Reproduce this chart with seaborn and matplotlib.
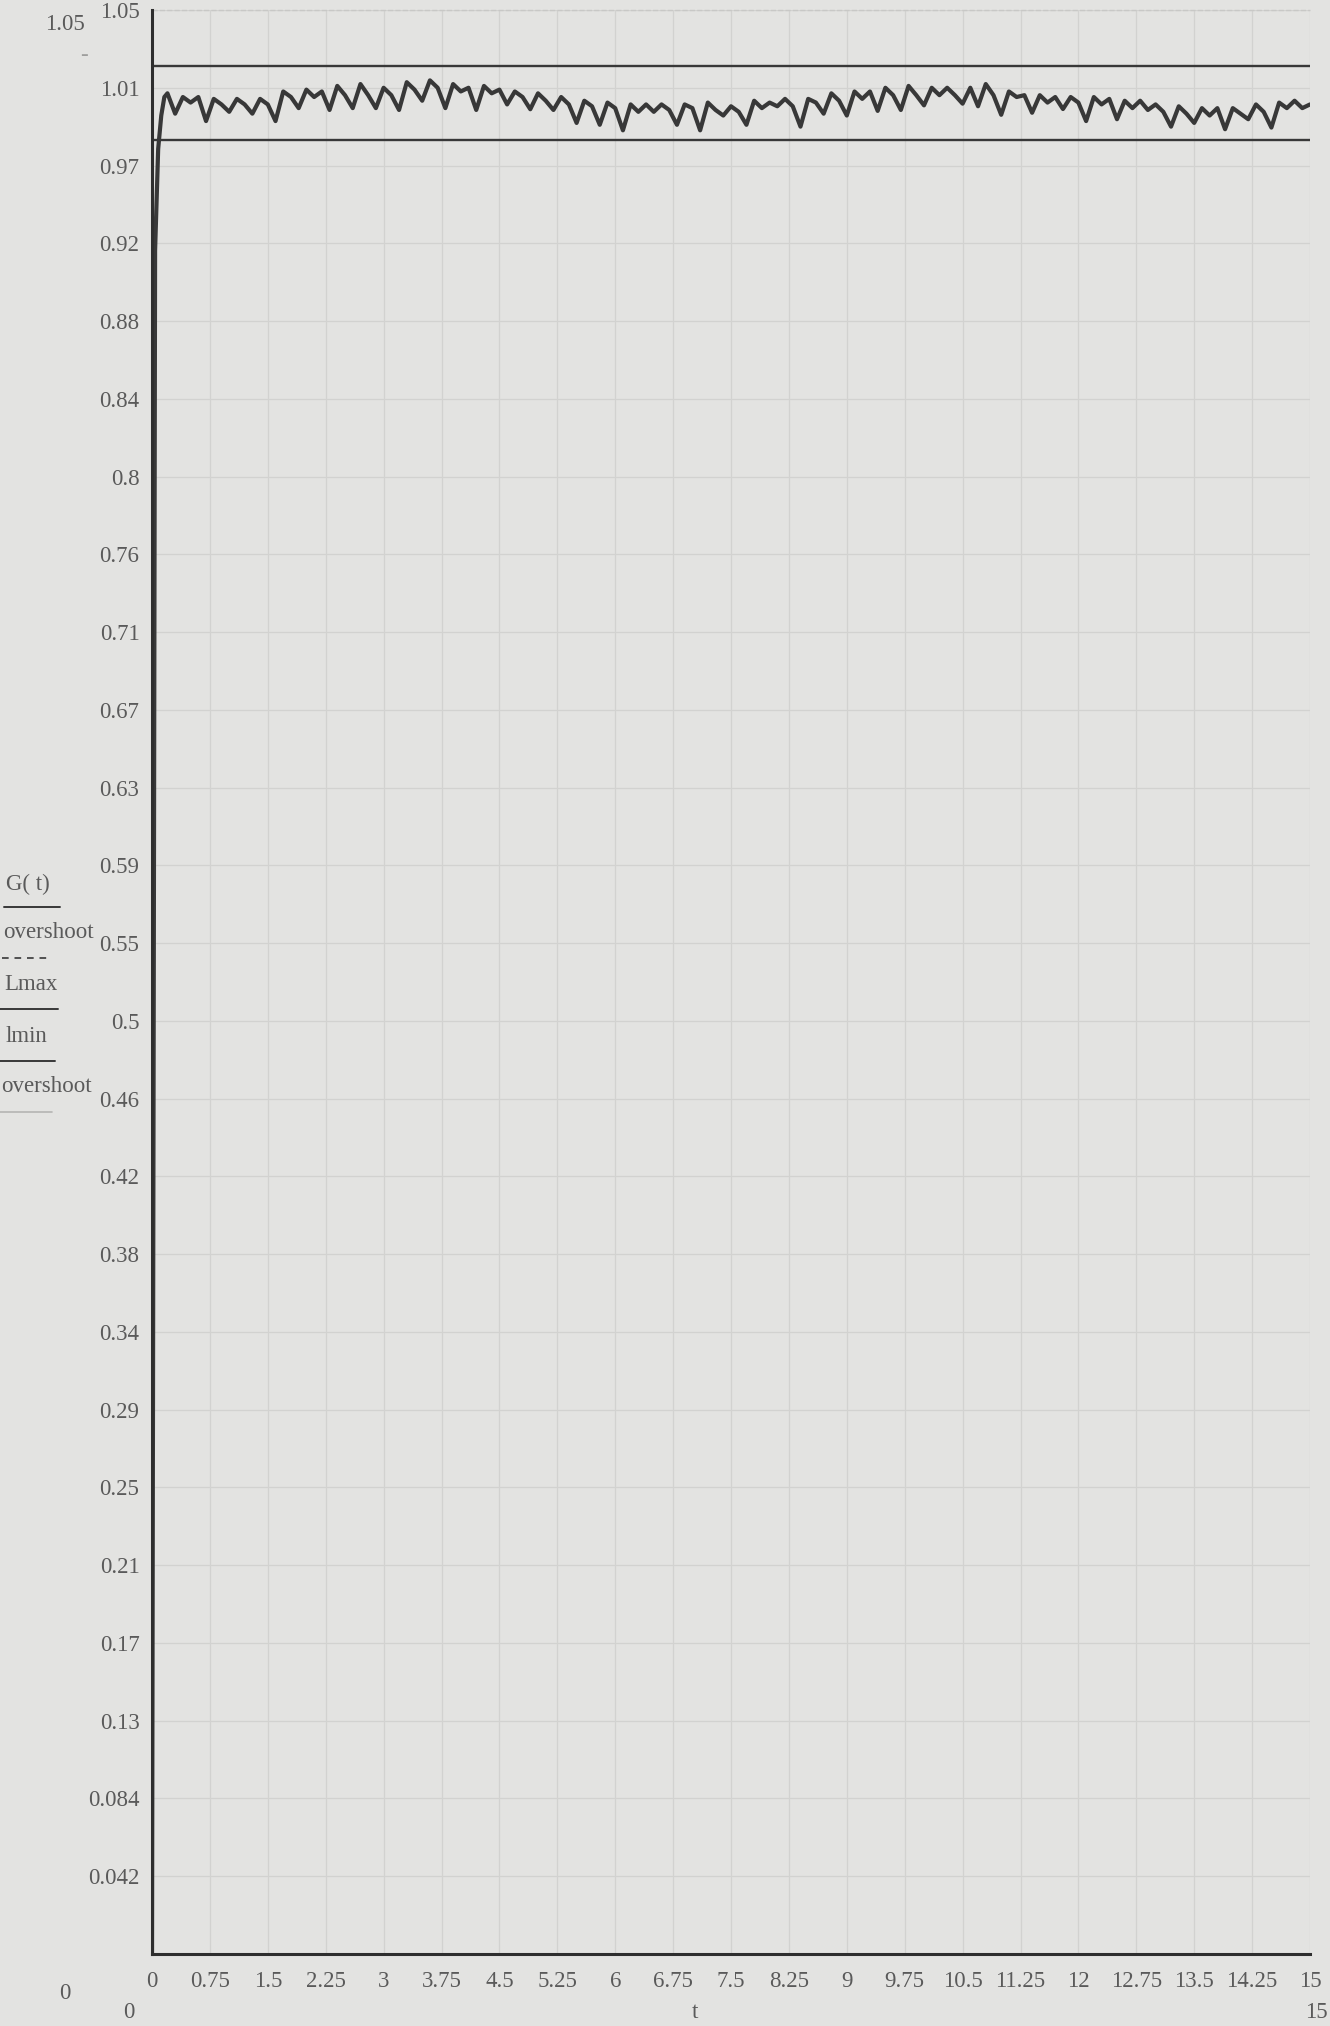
import numpy as np
import pandas as pd
import seaborn as sns
import matplotlib.pyplot as plt

# data
t_rise = [0.0, 0.04, 0.08, 0.12, 0.16]
g_rise = [0.0, 0.92, 0.975, 0.993, 1.003]

t_main = np.round(np.arange(0.2, 15.001, 0.1), 2)
g_main = [
    1.005, 0.994, 1.003, 1.000, 1.003, 0.990, 1.002, 0.999, 0.995, 1.002,
    0.999, 0.994, 1.002, 0.999, 0.990, 1.006, 1.003, 0.997, 1.007, 1.003,
    1.006, 0.996, 1.009, 1.004, 0.997, 1.010, 1.004, 0.997, 1.008, 1.004,
    0.996, 1.011, 1.007, 1.001, 1.012, 1.008, 0.997, 1.010, 1.006, 1.008,
    0.996, 1.009, 1.005, 1.007, 0.999, 1.006, 1.003, 0.9964, 1.005, 1.001,
    0.996, 1.003, 0.999, 0.989, 1.001, 0.998, 0.988, 1.000, 0.997, 0.985,
    0.999, 0.995, 0.999, 0.995, 0.999, 0.996, 0.988, 0.999, 0.997, 0.985,
    1.000, 0.996, 0.993, 0.998, 0.995, 0.988, 1.001, 0.997, 1.000, 0.998,
    1.002, 0.998, 0.987, 1.002, 1.000, 0.994, 1.005, 1.001, 0.993, 1.006,
    1.002, 1.006, 0.9955, 1.008, 1.004, 0.996, 1.009, 1.004, 0.9985, 1.008,
    1.004, 1.008, 1.004, 0.9994, 1.008, 0.998, 1.010, 1.004, 0.9934, 1.006,
    1.003, 1.004, 0.9945, 1.004, 1.000, 1.003, 0.9965, 1.003, 1.000, 0.990,
    1.003, 0.999, 1.002, 0.991, 1.001, 0.997, 1.001, 0.996, 0.999, 0.995,
    0.987, 0.998, 0.994, 0.989, 0.997, 0.993, 0.997, 0.9856, 0.997, 0.994,
    0.991, 0.999, 0.995, 0.9865, 1.000, 0.997, 1.001, 0.997, 0.999,
]

t_bounds = [0.0, 15.0]
lmax = [1.02, 1.02]
lmin = [0.98, 0.98]
overshoot = [1.05, 1.05]

x_ticks = [0, 0.75, 1.5, 2.25, 3, 3.75, 4.5, 5.25, 6, 6.75, 7.5, 8.25, 9,
           9.75, 10.5, 11.25, 12, 12.75, 13.5, 14.25, 15]
x_labels = ["0", "0.75", "1.5", "2.25", "3", "3.75", "4.5", "5.25", "6", "6.75",
            "7.5", "8.25", "9", "9.75", "10.5", "11.25", "12", "12.75", "13.5",
            "14.25", "15"]
y_labels = ["", "0.042", "0.084", "0.13", "0.17", "0.21", "0.25", "0.29", "0.34",
            "0.38", "0.42", "0.46", "0.5", "0.55", "0.59", "0.63", "0.67", "0.71",
            "0.76", "0.8", "0.84", "0.88", "0.92", "0.97", "1.01", "1.05"]
y_ticks = [round(0.042 * i, 3) for i in range(len(y_labels))]

BG = "#e3e3e1"
INK = "#383838"
TXT = "#5a5a5a"
GRID = "#d2d2d0"
FS = 16.5

sns.set_theme(style="white", rc={"axes.facecolor": BG, "figure.facecolor": BG})
plt.rcParams["font.family"] = ["Liberation Serif", "DejaVu Serif"]

W, H = 1330, 2026
fig = plt.figure(figsize=(W / 100, H / 100), dpi=100, facecolor=BG)
ax = fig.add_axes([152 / W, 72 / H, 1158 / W, 1944 / H])
ax.set_facecolor(BG)

df_g = pd.DataFrame({"t": list(t_rise) + list(t_main), "G": g_rise + g_main})
df_b = pd.DataFrame({"t": t_bounds, "Lmax": lmax, "lmin": lmin, "over": overshoot})

sns.lineplot(data=df_b, x="t", y="over", ax=ax, color="#c8c8c6", lw=1.0,
             linestyle="--", clip_on=False)
sns.lineplot(data=df_b, x="t", y="Lmax", ax=ax, color=INK, lw=1.7)
sns.lineplot(data=df_b, x="t", y="lmin", ax=ax, color=INK, lw=1.7)
sns.lineplot(data=df_g, x="t", y="G", ax=ax, color=INK, lw=3.0,
             estimator=None, sort=False)

ax.set_xlim(0, 15)
ax.set_ylim(0, 1.05)
ax.set_xticks(x_ticks)
ax.set_xticklabels(x_labels)
ax.set_yticks(y_ticks)
ax.set_yticklabels(y_labels)
ax.set_xlabel("")
ax.set_ylabel("")
ax.grid(True, color=GRID, lw=0.9)
ax.set_axisbelow(True)

for side in ["top", "right"]:
    ax.spines[side].set_visible(False)
for side in ["left", "bottom"]:
    ax.spines[side].set_color("#2e2e2e")
    ax.spines[side].set_linewidth(2.2)

ax.tick_params(axis="both", direction="inout", length=16, width=1.6,
               color="#2e2e2e", labelcolor=TXT, labelsize=FS, pad=1)
ax.tick_params(axis="x", pad=4)


def ftext(x, y, s, **kw):
    fig.text(x / W, 1 - y / H, s, color=TXT, fontsize=FS, va="center", **kw)


# Mathcad range labels and axis names
ftext(65, 24, "1.05", ha="center")
ftext(84, 56, "-", ha="center", alpha=0.5)
ftext(65, 1993, "0", ha="center")
ftext(129, 2012, "0", ha="center")
ftext(695, 2012, "t", ha="center")
ftext(1316, 2012, "15", ha="center")

# trace names stacked on the left
ftext(28, 884, "G( t)", ha="center")
ftext(48, 933, "overshoot", ha="center")
ftext(31, 984, "Lmax", ha="center")
ftext(26, 1036, "lmin", ha="center")
ftext(46, 1087, "overshoot", ha="center")


def fline(y, x0, x1, **kw):
    fig.add_artist(plt.Line2D([x0 / W, x1 / W], [1 - y / H, 1 - y / H],
                              transform=fig.transFigure, **kw))


fline(907, 4, 60, color=INK, lw=1.4)
fline(958, 2, 50, color=INK, lw=1.2, linestyle=(0, (4, 3.5)))
fline(1009, 0, 58, color=INK, lw=1.4)
fline(1061, 0, 55, color=INK, lw=1.4)
fline(1112, 0, 52, color="#b5b5b3", lw=1.2)

fig.savefig("out.png", dpi=100, facecolor=BG)
